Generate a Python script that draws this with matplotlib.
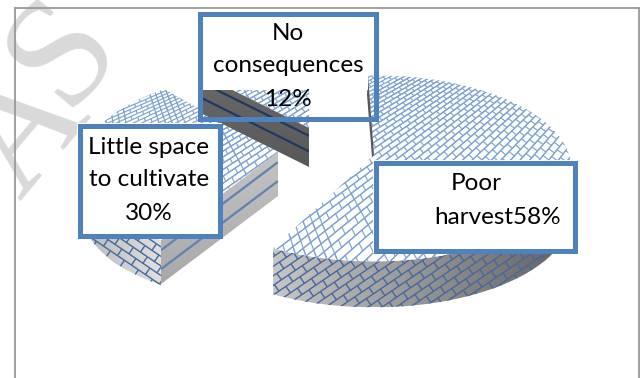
import numpy as np
import matplotlib
matplotlib.use('Agg')
import matplotlib.pyplot as plt
from matplotlib.collections import LineCollection
from matplotlib.patches import PathPatch, Polygon, Rectangle
from matplotlib.path import Path

categories = ['Poor harvest', 'Little space to cultivate', 'No consequences']
shares = [58, 30, 12]

A, B, PERSP = 195.0, 91.0, 0.144
BOX_BLUE = '#4f81bd'
BRICK = '#7ea3d2'

plt.rcParams['font.family'] = ['Lato', 'DejaVu Sans']


def project(t, c, r=1.0):
    X, Y = r * np.cos(t), r * np.sin(t)
    s = 1 / (1 + PERSP * Y)
    return np.column_stack([c[0] + A * X * s, c[1] - B * Y * s])


def clip_poly(pts):
    return Path(np.vstack([pts, pts[0]]), closed=True)


def brick_top(c, clip, color, lw, z, rise=35, length=12.0, height=5.4, warp=0.0035):
    # courses rise to the right and tighten towards the back of the pie
    c = np.array(c, float)
    a = np.radians(rise)
    u = np.array([np.cos(a), -np.sin(a)]) * length
    v = np.array([-np.sin(a), -np.cos(a)]) * height
    segs = []
    for i in range(-60, 60):
        p0 = v * i
        for j in range(-50, 50):
            q = p0 + u * (j + 0.5 * (i % 2))
            segs.append([q, q + u])
            segs.append([q, q + v])
    pts = np.array(segs)
    s = 1 / (1 - warp * pts[:, :, 1])
    pts = c + pts * s[:, :, None]
    lc = LineCollection(pts, colors=color, linewidths=lw, zorder=z)
    ax.add_collection(lc)
    lc.set_clip_path(PathPatch(clip, transform=ax.transData))


def brick_flat(clip, u, v, color, lw, z):
    # same brick texture for the side walls, without the tightening
    u, v = np.array(u, float), np.array(v, float)
    mid = clip.vertices.mean(axis=0)
    segs = []
    for i in range(-40, 40):
        p0 = mid + v * i
        for j in range(-40, 40):
            q = p0 + u * (j + 0.5 * (i % 2))
            segs.append([q, q + u])
            segs.append([q, q + v])
    lc = LineCollection(segs, colors=color, linewidths=lw, zorder=z)
    ax.add_collection(lc)
    lc.set_clip_path(PathPatch(clip, transform=ax.transData))


def gradient(clip, c0, c1, z, horizontal=True):
    xs, ys = clip.vertices[:, 0], clip.vertices[:, 1]
    ramp = np.linspace(0, 1, 64)
    c0, c1 = matplotlib.colors.to_rgb(c0), matplotlib.colors.to_rgb(c1)
    img = np.outer(ramp, c1) + np.outer(1 - ramp, c0)
    img = img[None, :, :] if horizontal else img[:, None, :]
    im = ax.imshow(img, extent=(xs.min(), xs.max(), ys.max(), ys.min()), aspect='auto', zorder=z,
                   interpolation='bilinear')
    im.set_clip_path(PathPatch(clip, transform=ax.transData))


def top_face(c, t0, t1, z, r=1.0):
    t = np.linspace(np.radians(t0), np.radians(t1), 100)
    pts = np.vstack([[c], project(t, c, r)])
    clip = clip_poly(pts)
    ax.add_patch(Polygon(pts, fc='white', ec='none', zorder=z))
    brick_top(c, clip, BRICK, 0.85, z + 0.1)


def wall(c, t0, t1, depth, c0, c1, u, v, z):
    t = np.linspace(np.radians(t0), np.radians(t1), 100)
    arc = project(t, c)
    clip = clip_poly(np.vstack([arc, (arc + [0, depth])[::-1]]))
    gradient(clip, c0, c1, z)
    brick_flat(clip, u, v, '#44699c', 1.0, z + 0.1)


def cut_face(c, t0, depth, c0, c1, stripe, fracs, z, r=1.0):
    outer = project(np.radians([t0]), c, r)[0]
    c = np.array(c, float)
    pts = np.array([c, outer, outer + [0, depth], c + [0, depth]])
    clip = clip_poly(pts)
    gradient(clip, c0, c1, z, horizontal=False)
    segs = [[c + [0, depth * f], outer + [0, depth * f]] for f in fracs]
    lc = LineCollection(segs, colors=stripe, linewidths=1.6, zorder=z + 0.1)
    ax.add_collection(lc)
    lc.set_clip_path(PathPatch(clip, transform=ax.transData))


def box(x0, y0, x1, y1, fill=True):
    if fill:
        ax.add_patch(Rectangle((x0, y0), x1 - x0, y1 - y0, fc='white', ec='none', zorder=10))
    ax.add_patch(Rectangle((x0 + 2.5, y0 + 2.5), x1 - x0 - 5, y1 - y0 - 5, fc='none', ec=BOX_BLUE,
                           lw=3.6, joinstyle='miter', zorder=12))


fig = plt.figure(figsize=(6.4, 3.78), dpi=100)
ax = fig.add_axes([0, 0, 1, 1])

# watermark sits behind everything
wm = dict(fontsize=112, family='Liberation Serif', color='#d9d9d9', rotation=50,
          ha='center', va='center', zorder=0)
ax.text(26, 134, 'A', **wm)
ax.text(64, 52, 'S', **wm)

# slice angles run clockwise from twelve o'clock
angles = np.cumsum([0] + [v * 3.6 for v in shares])
t_start = 90 - angles

main_c = (374, 155)
left_c = (278, 152)
top_c = (309, 128)

# exploded slices sit at slightly different viewing angles
main_t = t_start[:2] + 2
left_t = t_start[1:3] - 3

wall(main_c, main_t[1], -5, 46, '#c6c6c6', '#626262', (14, -9.5), (4.5, 6.5), 2)
top_face(main_c, main_t[0], main_t[1], 3)
ax.add_patch(Polygon(np.array([(368, 75), (374, 155), (372, 157), (367, 95)]), fc='#55585c', ec='none', zorder=4))

wall(left_c, left_t[0], -185, 45, '#b8b8b8', '#e0e0e0', (-14, -9.5), (-4.5, 6.5), 2)
cut_face(left_c, left_t[0], 44, '#c4c4c4', '#a8a8a8', '#5f83b0', (0.23, 0.66), 2.5)
top_face(left_c, left_t[0], left_t[1], 3)

cut_face(top_c, t_start[2], 39, '#6a6a6a', '#585858', '#1f3a5f', (0.2, 0.6), 6, r=0.88)
top_face(top_c, t_start[2], t_start[3], 5, r=0.88)

# text boxes: the upper one only blanks down to its third text line
ax.add_patch(Rectangle((197, 11), 171, 79, fc='white', ec='none', zorder=10))
box(197, 11, 378, 121, fill=False)
box(77, 123, 222, 238)
box(373, 160, 577, 253)

txt = dict(fontsize=17.5, color='black', ha='center', va='center', zorder=13)
ax.text(288, 33, 'No', **txt)
ax.text(288, 66, 'consequences', **txt)
ax.text(288, 100, f'{shares[2]}%', **txt)
ax.text(149, 147, 'Little space', **txt)
ax.text(149, 180, 'to cultivate', **txt)
ax.text(149, 213, f'{shares[1]}%', **txt)
ax.text(476, 184, 'Poor', **txt)
ax.text(498, 218, f'harvest{shares[0]}%', **txt)

# chart area outline, no bottom edge inside the crop
ax.plot([14.5, 14.5], [378, 7.5], color='#999999', lw=1.3, zorder=20)
ax.plot([14.5, 638.5], [7.5, 7.5], color='#999999', lw=1.3, zorder=20)
ax.plot([638.5, 638.5], [7.5, 378], color='#999999', lw=1.3, zorder=20)

ax.set_xlim(0, 640)
ax.set_ylim(378, 0)
ax.axis('off')
fig.savefig('out.png', dpi=100)
